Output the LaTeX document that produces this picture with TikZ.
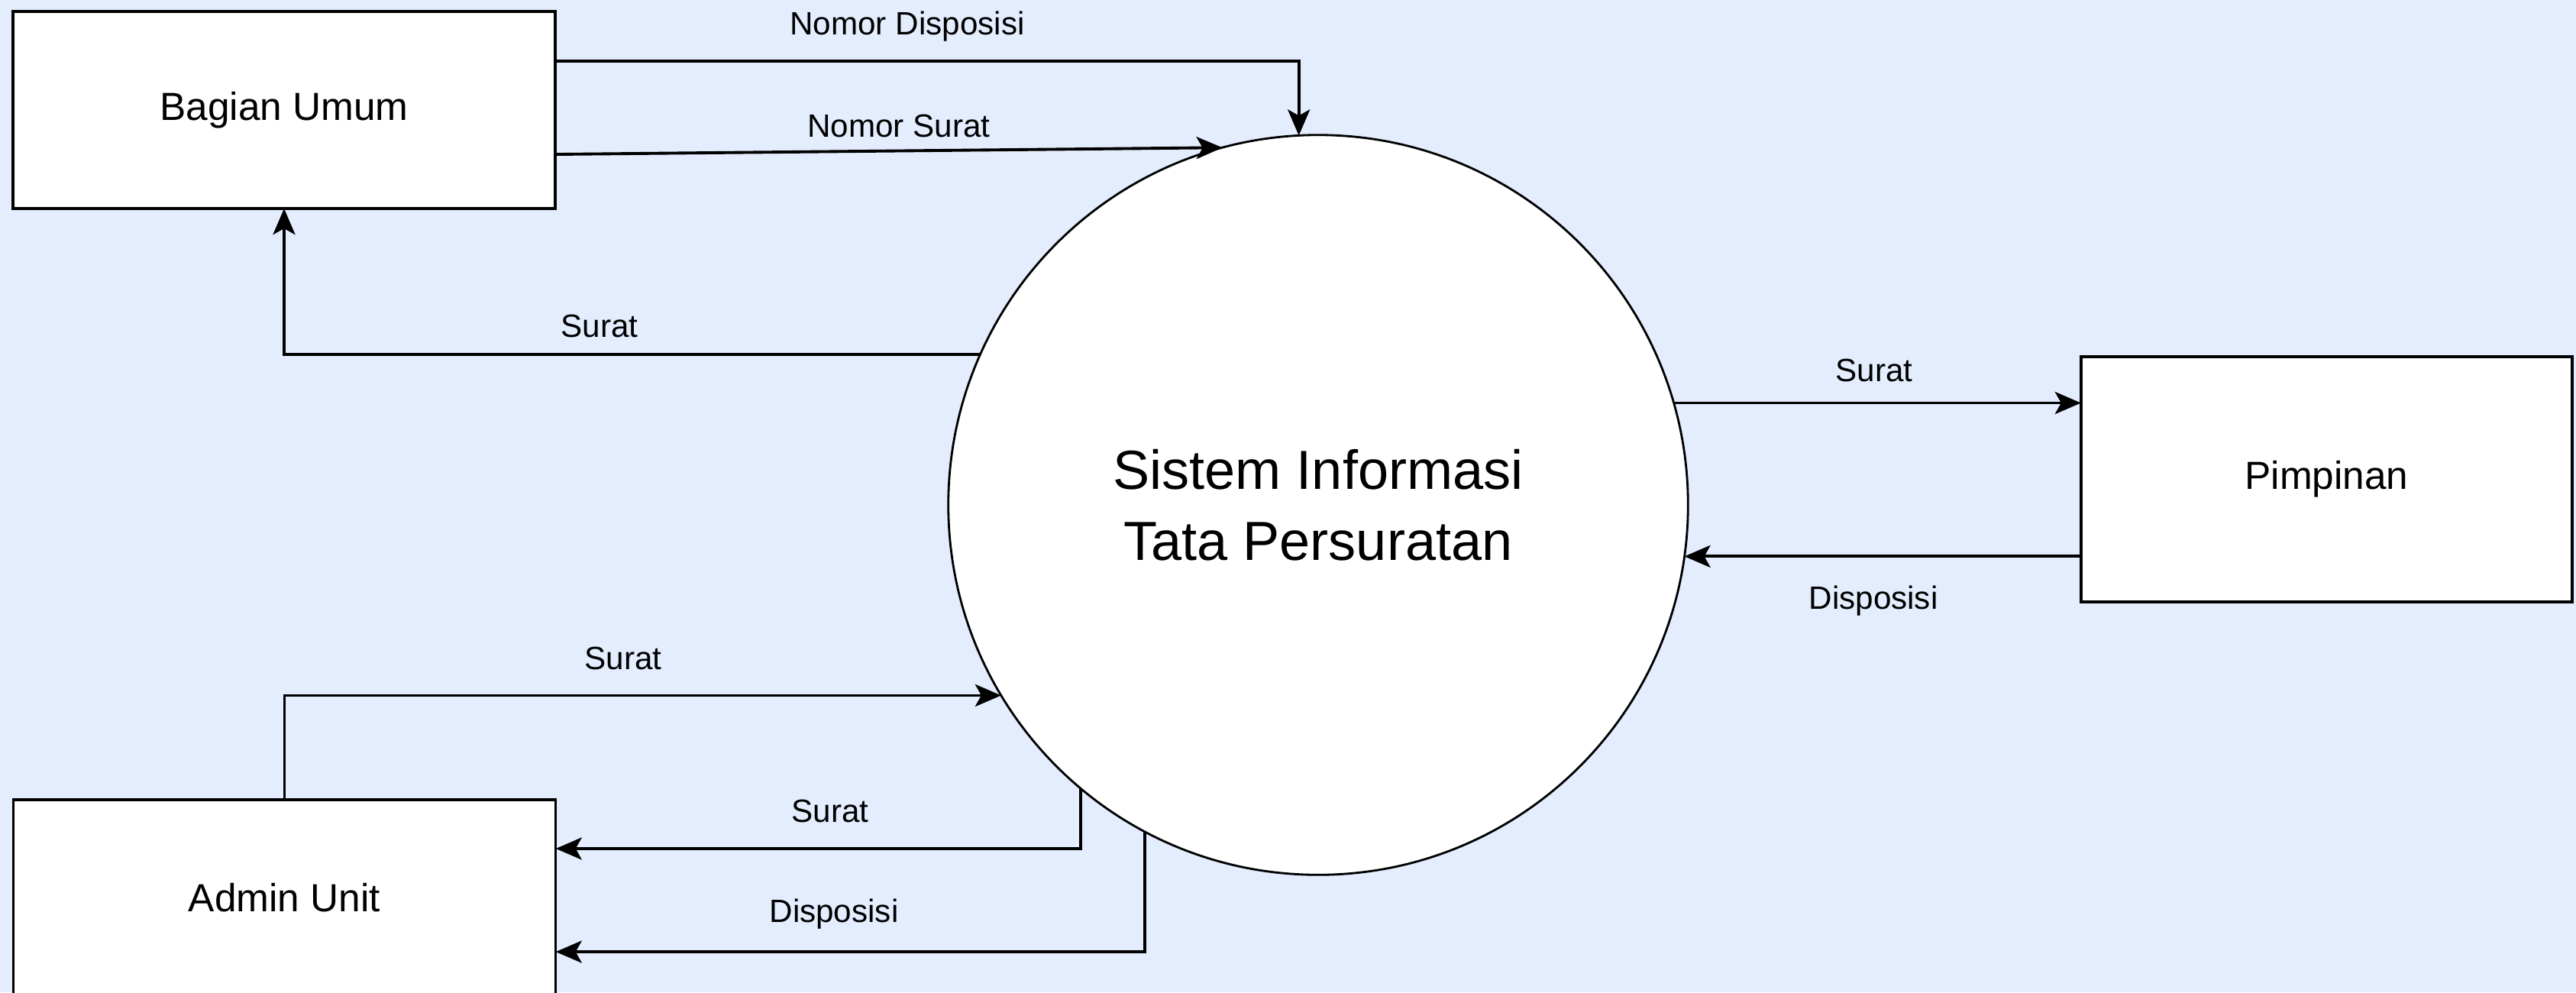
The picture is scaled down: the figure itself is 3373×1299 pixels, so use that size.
\documentclass[tikz,border=0pt]{standalone}
\usepackage{fontspec}
\setmainfont{Liberation Sans}
\usetikzlibrary{arrows.meta}
\definecolor{bg}{RGB}{227,237,253}
\begin{document}
\begin{tikzpicture}[x=0.01cm,y=-0.01cm,
 box/.style={draw=black,fill=white,line width=1pt,inner sep=0pt,outer sep=0pt,font=\fontsize{14.6}{17}\selectfont},
 proc/.style={circle,draw=black,fill=white,line width=0.8pt,inner sep=0pt,outer sep=0pt,minimum size=9.68cm,align=center,font=\fontsize{20.5}{26.5}\selectfont},
 flow/.style={line width=1.1pt,-{Stealth[length=0.34cm,width=0.29cm,inset=0.08cm]}},
 lbl/.style={font=\fontsize{12}{14}\selectfont,inner sep=0pt}]
\useasboundingbox (0,0) rectangle (3373,1299);
\fill[bg] (0,0) rectangle (3373,1299);
\node[box,minimum width=7.1cm,minimum height=2.58cm] (bu) at (372,144) {Bagian Umum};
\node[box,minimum width=7.1cm,minimum height=2.56cm] (au) at (372.5,1175) {Admin Unit};
\node[box,minimum width=6.43cm,minimum height=3.21cm] (pim) at (3046.5,627.5) {Pimpinan};
\node[proc] (sys) at (1726,661) {Sistem Informasi\\Tata Persuratan};
\draw[flow] ([yshift=0.64cm]bu.east) -| (sys.93.9);
\draw[flow] ([yshift=-0.58cm]bu.east) -- (sys.105.5);
\draw[flow] (sys.156.35) -| (bu.south);
\draw[flow] (sys.16.2) -- (sys.16.2 -| pim.west);
\draw[flow] (pim.west |- sys.352.4) -- (sys.352.4);
\draw[flow] (au.north) |- (sys.211.94);
\draw[flow] (sys.230.17) |- ([yshift=0.64cm]au.east);
\draw[flow] (sys.242.16) |- ([yshift=-0.71cm]au.east);
\node[lbl] (l1) at (1188,35) {Nomor Disposisi};
\node[lbl] (l2) at (1177,165) {Nomor Surat};
\node[lbl] (l3) at (785,427) {Surat};
\node[lbl] (l4) at (2454,485) {Surat};
\node[lbl] (l5) at (2453,787) {Disposisi};
\node[lbl] (l6) at (816,862) {Surat};
\node[lbl] (l7) at (1087,1062) {Surat};
\node[lbl] (l8) at (1092,1197) {Disposisi};
\end{tikzpicture}
\end{document}
